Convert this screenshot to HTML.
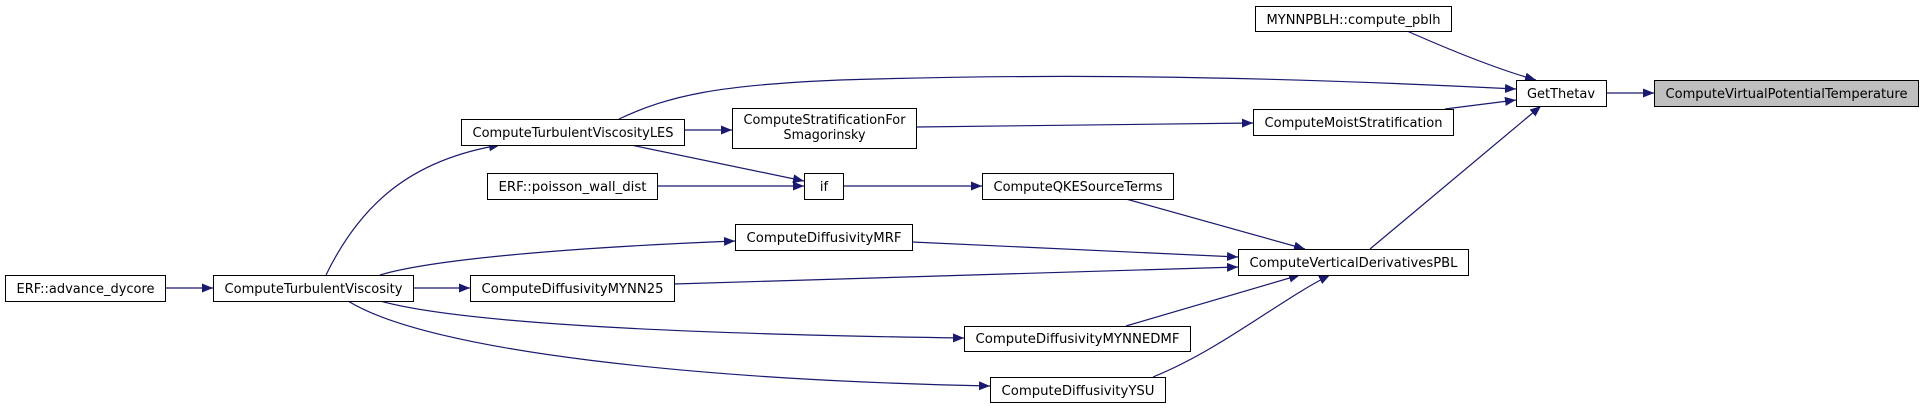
<!DOCTYPE html>
<html><head><meta charset="utf-8"><style>
html,body{margin:0;padding:0;background:#fff;}
svg{display:block;}
text{font-family:"DejaVu Sans","Liberation Sans",sans-serif;font-size:13px;fill:#000;}
</style></head><body>
<svg width="1924" height="408" viewBox="0 0 1924 408" xmlns="http://www.w3.org/2000/svg">
<defs>
<marker id="a" markerUnits="userSpaceOnUse" markerWidth="12" markerHeight="10" refX="11" refY="4.5" orient="auto">
<path d="M0,0 L11,4.5 L0,9 Z" fill="#191970"/>
</marker>
</defs>
<g fill="none" stroke="#191970" stroke-width="1.2" marker-end="url(#a)">
<path d="M165,288 L213,288"/>
<path d="M326,275 C360,205 410,160 500,145"/>
<path d="M684,130 L732,130"/>
<path d="M631,145 L804,181"/>
<path d="M657,186 L804,186"/>
<path d="M380,275 C430,260 560,248 735,241"/>
<path d="M413,288 L470,288"/>
<path d="M380,301 C441,318 600,333 964,338"/>
<path d="M348,301 C430,352 700,380 990,386"/>
<path d="M916,127 L1253,123"/>
<path d="M843,186 L982,186"/>
<path d="M912,242 L1238,257"/>
<path d="M674,284 L1238,267"/>
<path d="M1126,199 L1305,249"/>
<path d="M1126,326 L1300,275"/>
<path d="M1153,377 C1220,350 1280,300 1330,275"/>
<path d="M1407,31 C1450,50 1500,70 1536,80"/>
<path d="M619,119 C670,95 720,85 840,80 C1000,75 1200,73 1516,89"/>
<path d="M1445,109 L1516,100"/>
<path d="M1370,249 L1541,106"/>
<path d="M1606,93 L1654,93"/>
</g>
<g stroke="#000" stroke-width="1" fill="#fff">
<rect x="5.5" y="275.5" width="160" height="26"/>
<rect x="213.5" y="275.5" width="200" height="26"/>
<rect x="461.5" y="119.5" width="223" height="26"/>
<rect x="732.5" y="108.5" width="184" height="40"/>
<rect x="487.5" y="173.5" width="170" height="26"/>
<rect x="804.5" y="173.5" width="39" height="26"/>
<rect x="735.5" y="224.5" width="177" height="26"/>
<rect x="470.5" y="275.5" width="204" height="26"/>
<rect x="1255.5" y="6.5" width="196" height="25"/>
<rect x="1516.5" y="80.5" width="90" height="26"/>
<rect x="1654.5" y="80.5" width="264" height="26" fill="#bfbfbf"/>
<rect x="1253.5" y="109.5" width="200" height="26"/>
<rect x="982.5" y="173.5" width="191" height="26"/>
<rect x="1238.5" y="249.5" width="230" height="26"/>
<rect x="964.5" y="326.5" width="226" height="25"/>
<rect x="990.5" y="377.5" width="175" height="25"/>
</g>
<g text-anchor="middle">
<text x="85.5" y="293" textLength="138" lengthAdjust="spacingAndGlyphs">ERF::advance_dycore</text>
<text x="313.5" y="293" textLength="178" lengthAdjust="spacingAndGlyphs">ComputeTurbulentViscosity</text>
<text x="573" y="137" textLength="201" lengthAdjust="spacingAndGlyphs">ComputeTurbulentViscosityLES</text>
<text x="824.5" y="124" textLength="162" lengthAdjust="spacingAndGlyphs">ComputeStratificationFor</text>
<text x="824.5" y="139" textLength="82" lengthAdjust="spacingAndGlyphs">Smagorinsky</text>
<text x="572.5" y="191" textLength="148" lengthAdjust="spacingAndGlyphs">ERF::poisson_wall_dist</text>
<text x="824" y="191">if</text>
<text x="824" y="242" textLength="155" lengthAdjust="spacingAndGlyphs">ComputeDiffusivityMRF</text>
<text x="572.5" y="293" textLength="182" lengthAdjust="spacingAndGlyphs">ComputeDiffusivityMYNN25</text>
<text x="1353.5" y="24" textLength="174" lengthAdjust="spacingAndGlyphs">MYNNPBLH::compute_pblh</text>
<text x="1561" y="98" textLength="68" lengthAdjust="spacingAndGlyphs">GetThetav</text>
<text x="1786.5" y="98" textLength="242" lengthAdjust="spacingAndGlyphs">ComputeVirtualPotentialTemperature</text>
<text x="1353.5" y="127" textLength="178" lengthAdjust="spacingAndGlyphs">ComputeMoistStratification</text>
<text x="1078" y="191" textLength="169" lengthAdjust="spacingAndGlyphs">ComputeQKESourceTerms</text>
<text x="1353.5" y="267" textLength="208" lengthAdjust="spacingAndGlyphs">ComputeVerticalDerivativesPBL</text>
<text x="1077.5" y="343" textLength="204" lengthAdjust="spacingAndGlyphs">ComputeDiffusivityMYNNEDMF</text>
<text x="1078" y="395" textLength="153" lengthAdjust="spacingAndGlyphs">ComputeDiffusivityYSU</text>
</g>
</svg>
</body></html>
